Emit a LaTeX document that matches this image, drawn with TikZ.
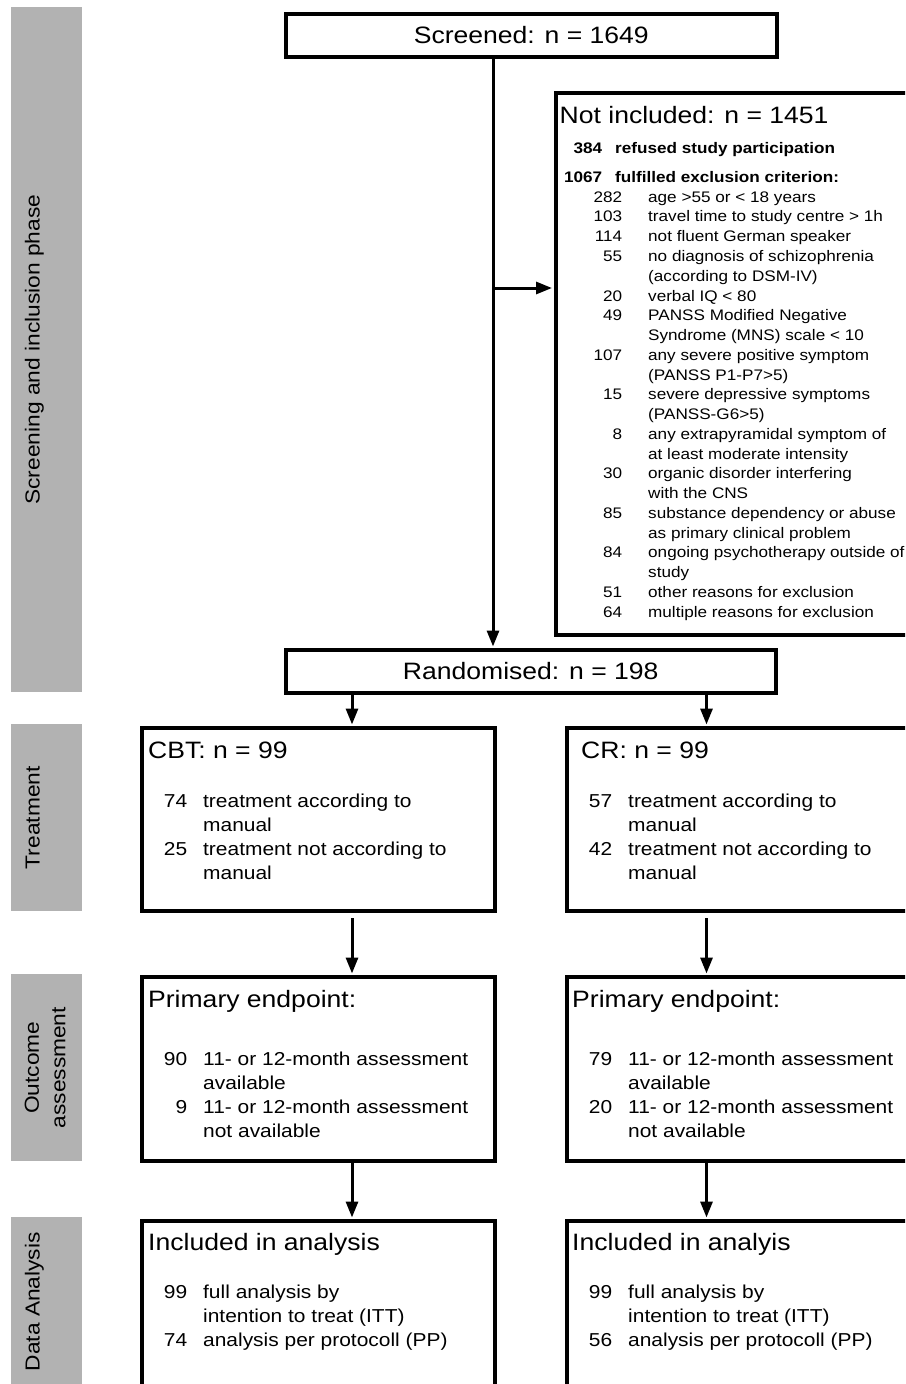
\documentclass[tikz,border=0pt]{standalone}
\usepackage{fontspec}
\setmainfont{Liberation Sans}[FakeStretch=1.12]
\usetikzlibrary{arrows.meta,positioning}

\newcommand{\exrow}[2]{\makebox[40pt][r]{#1}\hspace{26pt}#2}
\newcommand{\ptrow}[2]{\makebox[30pt][r]{#1}\hspace{16pt}#2}

\tikzset{
  flowbox/.style={draw, line width=4pt, rectangle, inner sep=0pt, anchor=north west,
    font=\fontsize{23.7}{28}\selectfont},
  headtext/.style={inner sep=0pt, anchor=base west, font=\fontsize{23.7}{28}\selectfont},
  bodytext/.style={inner sep=0pt, anchor=north west, font=\fontsize{18.7}{24}\selectfont},
  extext/.style={inner sep=0pt, anchor=north west, font=\fontsize{15.3}{19.76}\selectfont},
  exbold/.style={inner sep=0pt, anchor=base west, font=\fontsize{15.3}{19.76}\selectfont\bfseries},
  phasebar/.style={fill=black!30, inner sep=0pt, anchor=north west, minimum width=71pt},
  phaselabel/.style={rotate=90, inner sep=0pt, align=center, font=\fontsize{20.3}{26.4}\selectfont},
  arr/.style={line width=3pt, shorten >=1.5pt, -{Triangle[length=16pt,width=12pt]}}
}

\begin{document}
\begin{tikzpicture}[x=1pt, y=-1pt]
  \useasboundingbox (0,0) rectangle (905,1384);
  \fill[white] (0,0) rectangle (905,1384);
  \clip (0,0) rectangle (905,1384);

  % phases
  \node[phasebar, minimum height=685pt] (bar1) at (11,7) {};
  \node[phasebar, minimum height=187pt] (bar2) at (11,724) {};
  \node[phasebar, minimum height=187pt] (bar3) at (11,974) {};
  \node[phasebar, minimum height=169pt] (bar4) at (11,1217) {};
  \node[phaselabel, anchor=base] (lab1) at ([xshift=-7pt]bar1.center) {Screening and inclusion phase};
  \node[phaselabel, anchor=base] (lab2) at ([xshift=-7pt]bar2.center) {Treatment};
  \node[phaselabel] (lab3) at ([xshift=-1.5pt]bar3.center) {Outcome\\assessment};
  \node[phaselabel, anchor=base] (lab4) at ([xshift=-7pt]bar4.center) {Data Analysis};

  % boxes
  \node[flowbox, minimum width=491.5pt, minimum height=43.5pt] (screen) at (283.5,11.5) {Screened: n = 1649};
  \node[flowbox, minimum width=376.5pt, minimum height=542pt] (excl) at (553.5,90.5) {};
  \node[flowbox, minimum width=490.5pt, minimum height=42.5pt] (rand) at (283.5,648) {Randomised: n = 198};
  \node[flowbox, minimum width=352.5pt, minimum height=183pt] (cbt) at (140,726) {};
  \node[flowbox, minimum width=352.5pt, minimum height=183pt] (cr) at (565,726) {};
  \node[flowbox, minimum width=352.5pt, minimum height=183.5pt] (prim1) at (140,975) {};
  \node[flowbox, minimum width=352.5pt, minimum height=183.5pt] (prim2) at (565,975) {};
  \node[flowbox, minimum width=352.5pt, minimum height=200pt] (incl1) at (140,1219) {};
  \node[flowbox, minimum width=352.5pt, minimum height=200pt] (incl2) at (565,1219) {};

  % not included
  \node[headtext] (exhead) at (559.5,123) {Not included: n = 1451};
  \node[exbold] (exref) at (562,153) {\exrow{384}{}\hspace{-13pt}refused study participation};
  \node[exbold] (excrit) at (562,182) {\exrow{1067}{}\hspace{-13pt}fulfilled exclusion criterion:};
  \node[extext] (exlist) at (582,188.2) {\begin{tabular}{@{}l@{}}
    \exrow{282}{age >55 or < 18 years}\\
    \exrow{103}{travel time to study centre > 1h}\\
    \exrow{114}{not fluent German speaker}\\
    \exrow{55}{no diagnosis of schizophrenia}\\
    \exrow{}{(according to DSM-IV)}\\
    \exrow{20}{verbal IQ < 80}\\
    \exrow{49}{PANSS Modified Negative}\\
    \exrow{}{Syndrome (MNS) scale < 10}\\
    \exrow{107}{any severe positive symptom}\\
    \exrow{}{(PANSS P1-P7>5)}\\
    \exrow{15}{severe depressive symptoms}\\
    \exrow{}{(PANSS-G6>5)}\\
    \exrow{8}{any extrapyramidal symptom of}\\
    \exrow{}{at least moderate intensity}\\
    \exrow{30}{organic disorder interfering}\\
    \exrow{}{with the CNS}\\
    \exrow{85}{substance dependency or abuse}\\
    \exrow{}{as primary clinical problem}\\
    \exrow{84}{ongoing psychotherapy outside of}\\
    \exrow{}{study}\\
    \exrow{51}{other reasons for exclusion}\\
    \exrow{64}{multiple reasons for exclusion}
  \end{tabular}};

  % treatment
  \node[headtext] (cbthead) at (148,758.5) {CBT: n = 99};
  \node[bodytext] (cbtlist) at (157,790.7) {\begin{tabular}{@{}l@{}}
    \ptrow{74}{treatment according to}\\ \ptrow{}{manual}\\
    \ptrow{25}{treatment not according to}\\ \ptrow{}{manual}
  \end{tabular}};
  \node[headtext] (crhead) at (581,758.5) {CR: n = 99};
  \node[bodytext] (crlist) at (582,790.7) {\begin{tabular}{@{}l@{}}
    \ptrow{57}{treatment according to}\\ \ptrow{}{manual}\\
    \ptrow{42}{treatment not according to}\\ \ptrow{}{manual}
  \end{tabular}};

  % outcome
  \node[headtext] (prim1head) at (148,1007.5) {Primary endpoint:};
  \node[bodytext] (prim1list) at (157,1048.7) {\begin{tabular}{@{}l@{}}
    \ptrow{90}{11- or 12-month assessment}\\ \ptrow{}{available}\\
    \ptrow{9}{11- or 12-month assessment}\\ \ptrow{}{not available}
  \end{tabular}};
  \node[headtext] (prim2head) at (572,1007.5) {Primary endpoint:};
  \node[bodytext] (prim2list) at (582,1048.7) {\begin{tabular}{@{}l@{}}
    \ptrow{79}{11- or 12-month assessment}\\ \ptrow{}{available}\\
    \ptrow{20}{11- or 12-month assessment}\\ \ptrow{}{not available}
  \end{tabular}};

  % analysis
  \node[headtext] (incl1head) at (148,1250.5) {Included in analysis};
  \node[bodytext] (incl1list) at (157,1281.2) {\begin{tabular}{@{}l@{}}
    \ptrow{99}{full analysis by}\\ \ptrow{}{intention to treat (ITT)}\\
    \ptrow{74}{analysis per protocoll (PP)}
  \end{tabular}};
  \node[headtext] (incl2head) at (572,1250.5) {Included in analyis};
  \node[bodytext] (incl2list) at (582,1281.2) {\begin{tabular}{@{}l@{}}
    \ptrow{99}{full analysis by}\\ \ptrow{}{intention to treat (ITT)}\\
    \ptrow{56}{analysis per protocoll (PP)}
  \end{tabular}};

  % connectors
  \coordinate (split) at (493,288);
  \coordinate (lcol) at (352,0);
  \coordinate (rcol) at (706.5,0);
  \draw[arr] (screen.south -| split) -- (rand.north -| split);
  \draw[arr] (split) -- (excl.west |- split);
  \draw[arr] (rand.south -| lcol) -- (cbt.north -| lcol);
  \draw[arr] (rand.south -| rcol) -- (cr.north -| rcol);
  \draw[arr, shorten <=5pt] (cbt.south -| lcol) -- (prim1.north -| lcol);
  \draw[arr, shorten <=5pt] (cr.south -| rcol) -- (prim2.north -| rcol);
  \draw[arr] (prim1.south -| lcol) -- (incl1.north -| lcol);
  \draw[arr] (prim2.south -| rcol) -- (incl2.north -| rcol);
\end{tikzpicture}
\end{document}
